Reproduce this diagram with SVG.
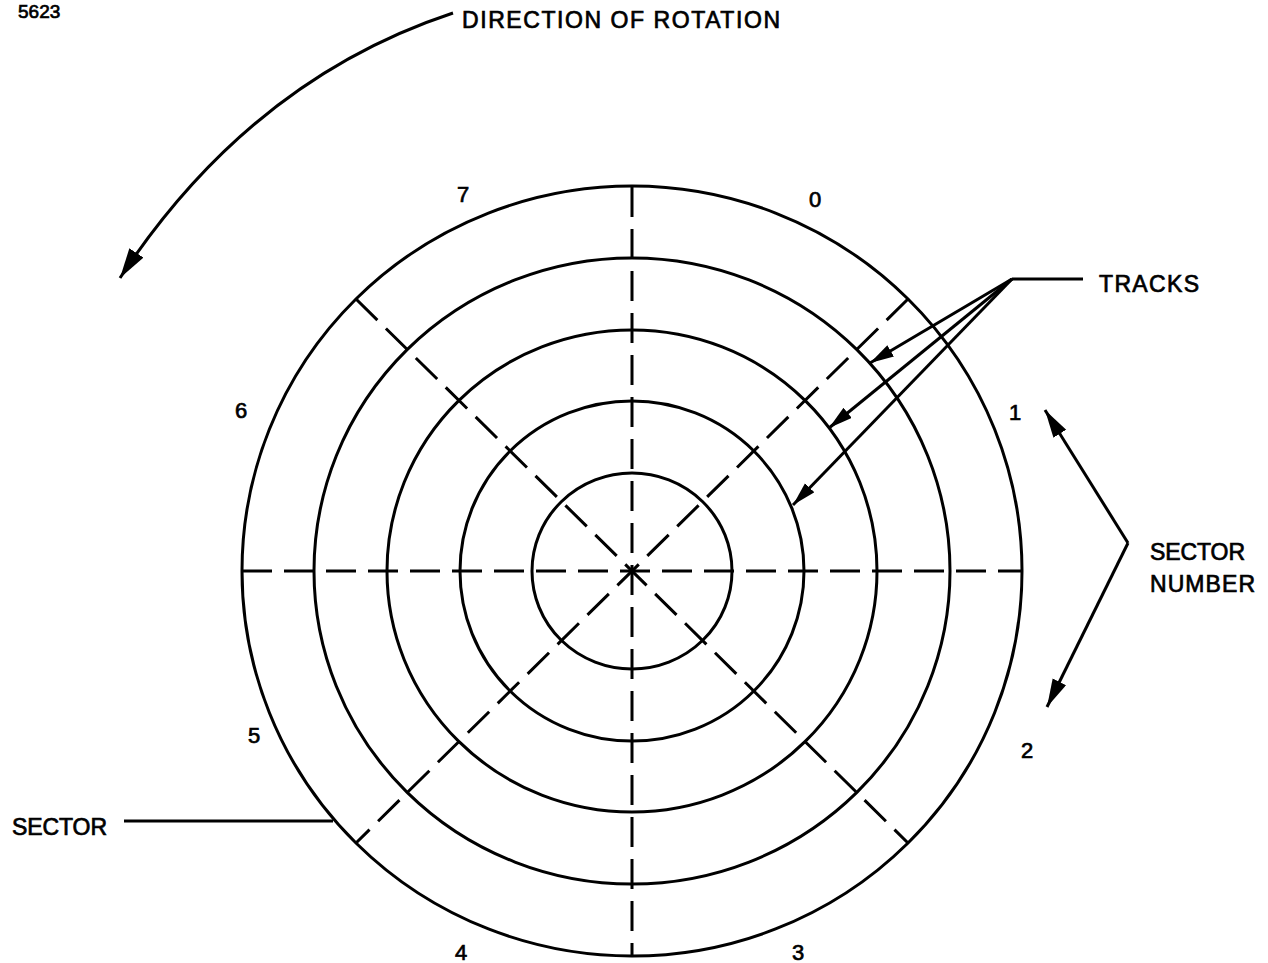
<svg xmlns="http://www.w3.org/2000/svg" width="1268" height="963" viewBox="0 0 1268 963">
<style>
.t{font-family:"Liberation Sans",Arial,sans-serif;fill:#000;stroke:#000;stroke-width:0.7}
.lbl{font-size:23px}
.num{font-size:22px}
.ring{fill:none;stroke:#000;stroke-width:3}
.dash{fill:none;stroke:#000;stroke-width:3;stroke-dasharray:30 12}
.ln{fill:none;stroke:#000;stroke-width:3}
</style>
<defs>
<marker id="aS" markerUnits="userSpaceOnUse" markerWidth="26" markerHeight="14" refX="24" refY="6.5" orient="auto"><path d="M0,0 L24,6.5 L0,13 z" fill="#000"/></marker>
<marker id="aM" markerUnits="userSpaceOnUse" markerWidth="30" markerHeight="16" refX="28" refY="7.5" orient="auto"><path d="M0,0 L28,7.5 L0,15 z" fill="#000"/></marker>
<marker id="aL" markerUnits="userSpaceOnUse" markerWidth="32" markerHeight="18" refX="30" refY="8.5" orient="auto"><path d="M0,0 L30,8.5 L0,17 z" fill="#000"/></marker>
</defs>
<rect width="1268" height="963" fill="#fff"/>
<g id="disk">
<ellipse class="ring" cx="632" cy="571" rx="390" ry="385"/>
<ellipse class="ring" cx="632" cy="571" rx="318" ry="313"/>
<ellipse class="ring" cx="632" cy="571" rx="245" ry="241"/>
<ellipse class="ring" cx="632" cy="571" rx="172" ry="170"/>
<ellipse class="ring" cx="632" cy="571" rx="100" ry="98"/>
</g>
<g id="sector-lines">
<line class="dash" x1="242" y1="571" x2="1022" y2="571"/>
<line class="dash" x1="632" y1="187" x2="632" y2="956"/>
<line class="dash" x1="356" y1="299" x2="908" y2="843"/>
<line class="dash" x1="908" y1="299" x2="356" y2="843"/>
</g>
<g id="sector-numbers" class="t num">
<text x="457" y="202">7</text>
<text x="809" y="207">0</text>
<text x="1009" y="420">1</text>
<text x="235" y="418">6</text>
<text x="248" y="743">5</text>
<text x="1021" y="758">2</text>
<text x="455" y="960">4</text>
<text x="792" y="960">3</text>
</g>
<g id="labels" class="t lbl">
<text x="18" y="18" style="font-size:19px">5623</text>
<text x="462" y="28" textLength="318" lengthAdjust="spacing">DIRECTION OF ROTATION</text>
<text x="1099" y="292" textLength="100" lengthAdjust="spacing">TRACKS</text>
<text x="1150" y="560" textLength="95" lengthAdjust="spacing">SECTOR</text>
<text x="1150" y="592" textLength="105" lengthAdjust="spacing">NUMBER</text>
<text x="12" y="835" textLength="95" lengthAdjust="spacing">SECTOR</text>
</g>
<g id="connectors">
<path class="ln" d="M453,13 Q250,80 120,278" marker-end="url(#aL)"/>
<polyline class="ln" points="1083,279 1012,279"/>
<line class="ln" x1="1012" y1="279" x2="870" y2="363" marker-end="url(#aS)"/>
<line class="ln" x1="1012" y1="279" x2="829" y2="428" marker-end="url(#aS)"/>
<line class="ln" x1="1012" y1="279" x2="793" y2="505" marker-end="url(#aS)"/>
<line class="ln" x1="1128" y1="543" x2="1045" y2="410" marker-end="url(#aM)"/>
<line class="ln" x1="1128" y1="543" x2="1047" y2="707" marker-end="url(#aM)"/>
<line class="ln" x1="124" y1="821" x2="333" y2="821"/>
</g>
</svg>
